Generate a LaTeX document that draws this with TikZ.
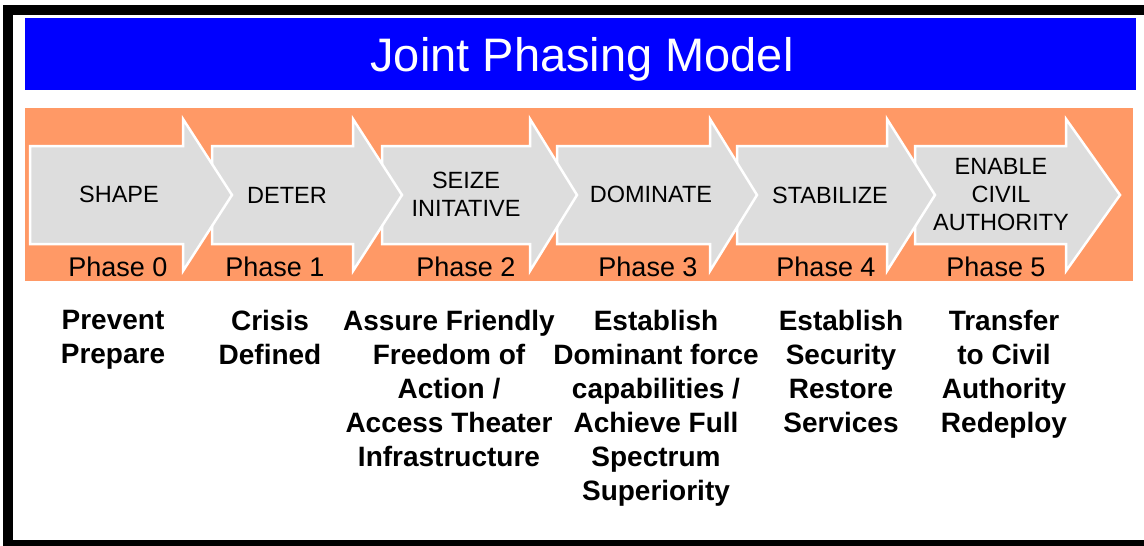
\documentclass[tikz,border=0pt]{standalone}
\usepackage{fontspec}
\setmainfont{Liberation Sans}
\usepackage{tikz}
\definecolor{titleblue}{RGB}{0,0,255}
\definecolor{bandorange}{RGB}{255,153,102}
\definecolor{arrowgray}{RGB}{221,221,221}

\begin{document}
\begin{tikzpicture}[x=1pt,y=-1pt,
  stagearrow/.style={fill=arrowgray,draw=white,line width=2.5pt,line join=miter},
  stagelabel/.style={font=\fontsize{23.5}{28}\selectfont,align=center,inner sep=0pt},
  phaselabel/.style={font=\fontsize{27}{30}\selectfont,anchor=base,inner sep=0pt},
  goallabel/.style={font=\fontsize{28}{34}\selectfont\bfseries,align=center,anchor=north,inner sep=0pt}]
\useasboundingbox (0,0) rectangle (1144,546);
\fill [white] (0,0) rectangle (1144,546);
\fill [black] (3,5) rectangle (1144,546);
\fill [white] (13,15) rectangle (1144,540);
% title bar
\fill [titleblue] (25,18) rectangle (1136,90);
\node [font=\fontsize{47}{50}\selectfont,white,anchor=base,inner sep=0pt] (title) at (582,71) {Joint Phasing Model};
% phase band, arrows drawn right to left so each head sits on the next shaft
\fill [bandorange] (25,108) rectangle (1133,281);
\foreach \s/\b/\t in {915/1066/1120,737/887/935,557/710/757,382/530/577,212/353/402,30/183/232}
  \draw [stagearrow] (\s,146) -- (\b,146) -- (\b,119) -- (\t,195) -- (\b,271) -- (\b,244) -- (\s,244) -- cycle;
\node [stagelabel] (stage0) at (119,194) {SHAPE};
\node [stagelabel] (stage1) at (287,195) {DETER};
\node [stagelabel] (stage2) at (466,194) {SEIZE\\INITATIVE};
\node [stagelabel] (stage3) at (651,194) {DOMINATE};
\node [stagelabel] (stage4) at (830,195) {STABILIZE};
\node [stagelabel] (stage5) at (1001,195) {ENABLE\\CIVIL\\AUTHORITY};
\foreach \i/\x in {0/118,1/275,2/466,3/648,4/826,5/996}
  \node [phaselabel] (phase\i) at (\x,276) {Phase \i};
% objectives under each phase
\node [goallabel] (goal0) at (113,310) {Prevent\\Prepare};
\node [goallabel] (goal1) at (270,310) {Crisis\\Defined};
\node [goallabel] (goal2) at (449,310) {Assure Friendly\\Freedom of\\Action /\\Access Theater\\Infrastructure};
\node [goallabel] (goal3) at (656,310) {Establish\\Dominant force\\capabilities /\\Achieve Full\\Spectrum\\Superiority};
\node [goallabel] (goal4) at (841,310) {Establish\\Security\\Restore\\Services};
\node [goallabel] (goal5) at (1004,310) {Transfer\\to Civil\\Authority\\Redeploy};
\end{tikzpicture}
\end{document}
